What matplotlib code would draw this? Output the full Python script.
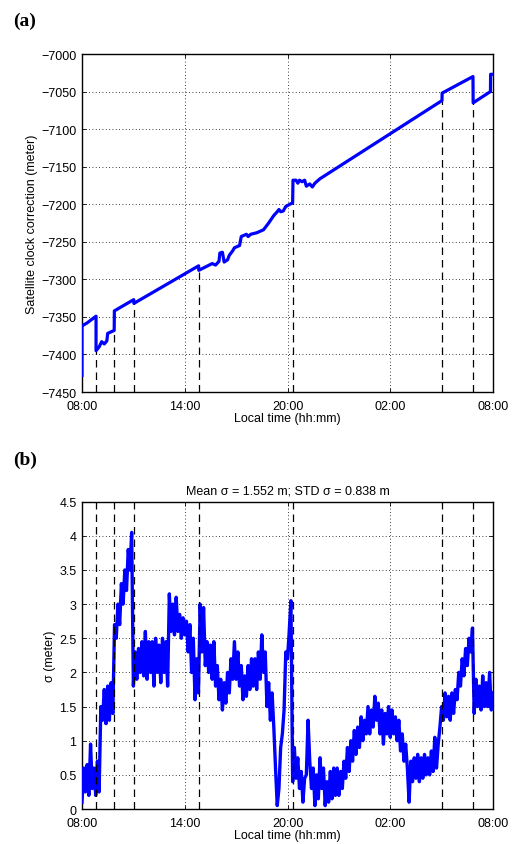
'''
Satellite clock correction and sigma over one day
'''

import numpy as np
from matplotlib import pyplot as plt
from matplotlib.ticker import FormatStrFormatter

# time of day in hours (8 = 08:00, 32 = 08:00 next day)
t_clk = [8.0, 8.0, 8.3, 8.82, 8.82, 9.0, 9.15, 9.3, 9.45, 9.5, 9.88, 9.89,
         11.02, 11.03, 14.81, 14.82, 15.6, 15.8, 16.0, 16.05, 16.2, 16.3,
         16.5, 16.6, 16.8, 16.9, 17.2, 17.3, 17.6, 17.7, 17.85, 18.2, 18.6,
         18.9, 19.2, 19.4, 19.5, 19.6, 19.75, 19.9, 20.3, 20.32, 20.5, 20.6,
         20.7, 20.85, 21.0, 21.1, 21.3, 21.45, 21.6, 21.9, 29.02, 29.03,
         30.83, 30.84, 31.85, 31.86, 32.0]
clk = [-7428, -7362, -7358, -7349, -7395, -7390, -7383, -7386, -7382, -7372,
       -7368, -7342, -7327, -7332, -7282, -7288, -7279, -7281, -7276, -7265,
       -7264, -7277, -7274, -7268, -7262, -7258, -7255, -7243, -7240, -7243,
       -7240, -7238, -7234, -7225, -7215, -7210, -7207, -7210, -7209, -7203,
       -7198, -7168, -7168, -7172, -7168, -7170, -7168, -7176, -7173, -7177,
       -7172, -7166, -7062, -7052, -7030, -7065, -7050, -7027, -7027]

# epochs of the clock jumps (dashed lines)
events = [8.82, 9.89, 11.02, 14.81, 20.3, 29.02, 30.83]

# sigma sampled every 0.1 h from 08:00 to 08:00
t_sig = np.arange(241) / 10.0 + 8.0
sigma = [
    0.1, 0.6, 0.25, 0.65, 0.2, 0.95, 0.3, 0.6, 0.2, 0.7,
    0.25, 1.5, 1.3, 1.75, 1.25, 1.8, 1.3, 1.85, 1.4, 2.7,
    2.5, 3.0, 2.7, 3.3, 3.0, 3.5, 3.2, 3.8, 3.5, 4.05,
    1.8, 2.3, 1.9, 2.35, 2.0, 2.45, 1.95, 2.6, 1.9, 2.45,
    2.0, 2.45, 1.8, 2.5, 2.0, 2.4, 1.85, 2.5, 2.0, 2.45,
    1.8, 3.15, 2.6, 3.0, 2.55, 3.1, 2.6, 2.85, 2.5, 2.8,
    2.55, 2.75, 2.3, 2.7, 2.0, 2.5, 1.6, 2.2, 1.7, 3.0,
    2.3, 2.95, 2.1, 2.45, 2.0, 2.4, 1.9, 2.45, 1.8, 2.1,
    1.6, 1.9, 1.45, 1.85, 1.55, 2.0, 1.7, 2.2, 1.9, 2.45,
    1.9, 2.3, 1.8, 2.1, 1.6, 1.95, 1.65, 2.1, 1.75, 2.2,
    1.8, 2.2, 1.75, 2.3, 1.9, 2.55, 2.0, 2.3, 1.5, 1.85,
    1.3, 1.7, 1.2, 0.6, 0.05, 0.3, 0.9, 1.1, 1.45, 2.3,
    2.2, 2.6, 3.05, 0.4, 0.9, 0.45, 0.75, 0.3, 0.55, 0.1,
    0.45, 0.5, 1.3, 0.7, 0.3, 0.6, 0.05, 0.5, 0.15, 0.75,
    0.3, 0.6, 0.05, 0.4, 0.1, 0.55, 0.15, 0.6, 0.2, 0.6,
    0.2, 0.55, 0.3, 0.7, 0.45, 0.9, 0.55, 1.0, 0.7, 1.15,
    0.8, 1.2, 0.9, 1.35, 1.0, 1.3, 1.1, 1.5, 1.1, 1.45,
    1.2, 1.65, 1.3, 1.55, 1.1, 1.45, 0.95, 1.4, 1.1, 1.5,
    1.05, 1.45, 1.1, 1.35, 1.0, 1.3, 0.85, 1.1, 0.7, 0.95,
    0.6, 0.1, 0.7, 0.4, 0.75, 0.45, 0.8, 0.4, 0.75, 0.45,
    0.8, 0.5, 0.75, 0.5, 0.85, 0.55, 1.05, 0.6, 0.95, 1.2,
    1.5, 1.3, 1.7, 1.35, 1.65, 1.3, 1.7, 1.4, 1.75, 1.6,
    2.0, 1.8, 2.2, 1.95, 2.35, 2.1, 2.5, 2.3, 2.65, 1.4,
    1.9, 1.5, 1.8, 1.45, 1.95, 1.5, 1.85, 1.5, 2.0, 1.45,
    1.7]

time_ticks = [8, 14, 20, 26, 32]
time_labels = ['08:00', '14:00', '20:00', '02:00', '08:00']

plt.rcParams['font.family'] = ['Liberation Sans', 'DejaVu Sans']
plt.rcParams['font.size'] = 9


def style_axes(ax):
    # matlab-like box, inward ticks and dotted grid
    ax.set_xlim(8, 32)
    ax.set_xticks(time_ticks)
    ax.set_xticklabels(time_labels)
    ax.tick_params(direction='in', top=True, right=True, length=3,
                   width=0.6, labelsize=9)
    ax.tick_params(axis='x', pad=6)
    ax.tick_params(axis='y', pad=4)
    ax.grid(True, linestyle=(0, (1, 3)), color='k', linewidth=0.6)
    for s in ax.spines.values():
        s.set_linewidth(1.0)
    ax.set_xlabel('Local time (hh:mm)', fontsize=9, labelpad=0)


fig = plt.figure(figsize=(5.17, 8.45), dpi=100)

# (a) clock correction
ax1 = fig.add_axes([0.1586, 0.5349, 0.795, 0.40])
ax1.plot(t_clk, clk, color='#0000ff', linewidth=2.3, zorder=3)
t_arr = np.array(t_clk)
c_arr = np.array(clk)
for e in events:
    top = c_arr[np.abs(t_arr - e) < 0.025].min()
    ax1.vlines(e, -7450, top, colors='k', linestyles=(0, (6, 4)),
               linewidth=0.9, zorder=2)
ax1.set_ylim(-7450, -7000)
ax1.set_yticks(np.arange(-7450, -6999, 50))
ax1.set_ylabel('Satellite clock correction (meter)', fontsize=9, labelpad=2)
style_axes(ax1)

# (b) sigma
ax2 = fig.add_axes([0.1586, 0.0414, 0.795, 0.3637])
ax2.plot(t_sig, sigma, color='#0000ff', linewidth=2.4, zorder=3)
for e in events:
    ax2.axvline(e, color='k', linestyle=(0, (6, 4)), linewidth=0.9,
                zorder=4)
ax2.set_ylim(0, 4.5)
ax2.set_yticks(np.arange(0, 4.51, 0.5))
ax2.yaxis.set_major_formatter(FormatStrFormatter('%g'))
ax2.set_ylabel('\u03c3 (meter)', fontsize=9, labelpad=2)
ax2.set_title('Mean \u03c3 = 1.552 m; STD \u03c3 = 0.838 m', fontsize=9, pad=6)
style_axes(ax2)

fig.text(0.025, 0.985, '(a)', fontsize=14, fontweight='bold',
         family='Liberation Serif', va='top')
fig.text(0.025, 0.465, '(b)', fontsize=14, fontweight='bold',
         family='Liberation Serif', va='top')

fig.savefig('out.png', dpi=100)
